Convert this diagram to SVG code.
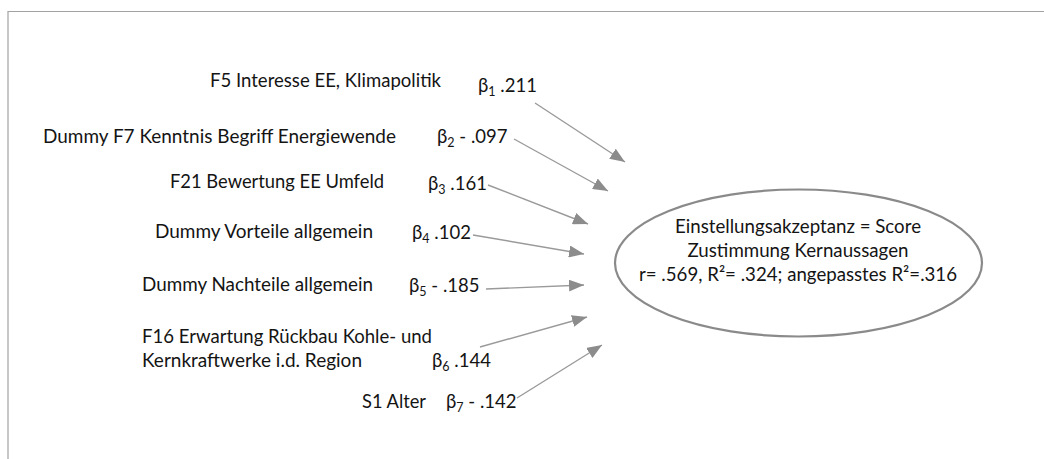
<svg xmlns="http://www.w3.org/2000/svg" width="1044" height="459" viewBox="0 0 1044 459">
  <style>
    .lbl { font-family: Lato, "Open Sans", "DejaVu Sans", sans-serif; font-size: 19.5px; fill: #141414; }
    .beta { font-family: Lato, "Open Sans", "DejaVu Sans", sans-serif; font-size: 18.5px; fill: #141414; }
    .sub { font-size: 12.5px; }
    .frame { stroke: #a2a2a2; stroke-width: 1.2; fill: none; }
    .edge { stroke: #9a9a9a; stroke-width: 1.4; fill: none; marker-end: url(#head); }
    .target { fill: #ffffff; stroke: #8a8a8a; stroke-width: 2.2; }
  </style>
  <defs>
    <marker id="head" markerUnits="userSpaceOnUse" markerWidth="16" markerHeight="12" refX="15" refY="6" orient="auto">
      <path d="M0,0 L15,6 L0,12 Z" fill="#8c8c8c"/>
    </marker>
  </defs>

  <rect width="1044" height="459" fill="#ffffff"/>
  <!-- page frame -->
  <path class="frame" d="M8,459 V11.5 H1044"/>

  <!-- predictor labels -->
  <g id="n-f5">
    <text class="lbl" x="210" y="87" textLength="231" lengthAdjust="spacingAndGlyphs">F5 Interesse EE, Klimapolitik</text>
    <text class="beta" x="478" y="92">β<tspan class="sub" dy="4">1</tspan><tspan dy="-4"> .211</tspan></text>
  </g>
  <g id="n-f7">
    <text class="lbl" x="43" y="143" textLength="353" lengthAdjust="spacingAndGlyphs">Dummy F7 Kenntnis Begriff Energiewende</text>
    <text class="beta" x="437" y="143">β<tspan class="sub" dy="4">2</tspan><tspan dy="-4"> - .097</tspan></text>
  </g>
  <g id="n-f21">
    <text class="lbl" x="170" y="188" textLength="214" lengthAdjust="spacingAndGlyphs">F21 Bewertung EE Umfeld</text>
    <text class="beta" x="428" y="190">β<tspan class="sub" dy="4">3</tspan><tspan dy="-4"> .161</tspan></text>
  </g>
  <g id="n-vorteile">
    <text class="lbl" x="155" y="238" textLength="218" lengthAdjust="spacingAndGlyphs">Dummy Vorteile allgemein</text>
    <text class="beta" x="412" y="239">β<tspan class="sub" dy="4">4</tspan><tspan dy="-4"> .102</tspan></text>
  </g>
  <g id="n-nachteile">
    <text class="lbl" x="142" y="291" textLength="231" lengthAdjust="spacingAndGlyphs">Dummy Nachteile allgemein</text>
    <text class="beta" x="409" y="292">β<tspan class="sub" dy="4">5</tspan><tspan dy="-4"> - .185</tspan></text>
  </g>
  <g id="n-f16">
    <text class="lbl" x="142" y="343" textLength="290" lengthAdjust="spacingAndGlyphs">F16 Erwartung Rückbau Kohle- und</text>
    <text class="lbl" x="142" y="367" textLength="220" lengthAdjust="spacingAndGlyphs">Kernkraftwerke i.d. Region</text>
    <text class="beta" x="432" y="367">β<tspan class="sub" dy="4">6</tspan><tspan dy="-4"> .144</tspan></text>
  </g>
  <g id="n-s1">
    <text class="lbl" x="362" y="408" textLength="64" lengthAdjust="spacingAndGlyphs">S1 Alter</text>
    <text class="beta" x="446" y="408">β<tspan class="sub" dy="4">7</tspan><tspan dy="-4"> - .142</tspan></text>
  </g>

  <!-- outcome -->
  <g id="n-score">
    <ellipse class="target" cx="798.5" cy="263" rx="183.5" ry="73.5"/>
    <text class="lbl" x="798" y="233" text-anchor="middle" textLength="246" lengthAdjust="spacingAndGlyphs">Einstellungsakzeptanz = Score</text>
    <text class="lbl" x="798" y="257" text-anchor="middle" textLength="221" lengthAdjust="spacingAndGlyphs">Zustimmung Kernaussagen</text>
    <text class="lbl" x="798" y="281" text-anchor="middle" textLength="318" lengthAdjust="spacingAndGlyphs">r= .569, R²= .324; angepasstes R²=.316</text>
  </g>

  <!-- connectors -->
  <g id="connectors">
    <line class="edge" x1="535" y1="103" x2="625" y2="162"/>
    <line class="edge" x1="514" y1="139" x2="608" y2="191"/>
    <line class="edge" x1="488" y1="185" x2="588" y2="224"/>
    <line class="edge" x1="473" y1="235" x2="584" y2="254"/>
    <line class="edge" x1="486" y1="289" x2="584" y2="285"/>
    <line class="edge" x1="480" y1="347" x2="587" y2="317"/>
    <line class="edge" x1="517" y1="398" x2="602" y2="345"/>
  </g>
</svg>
